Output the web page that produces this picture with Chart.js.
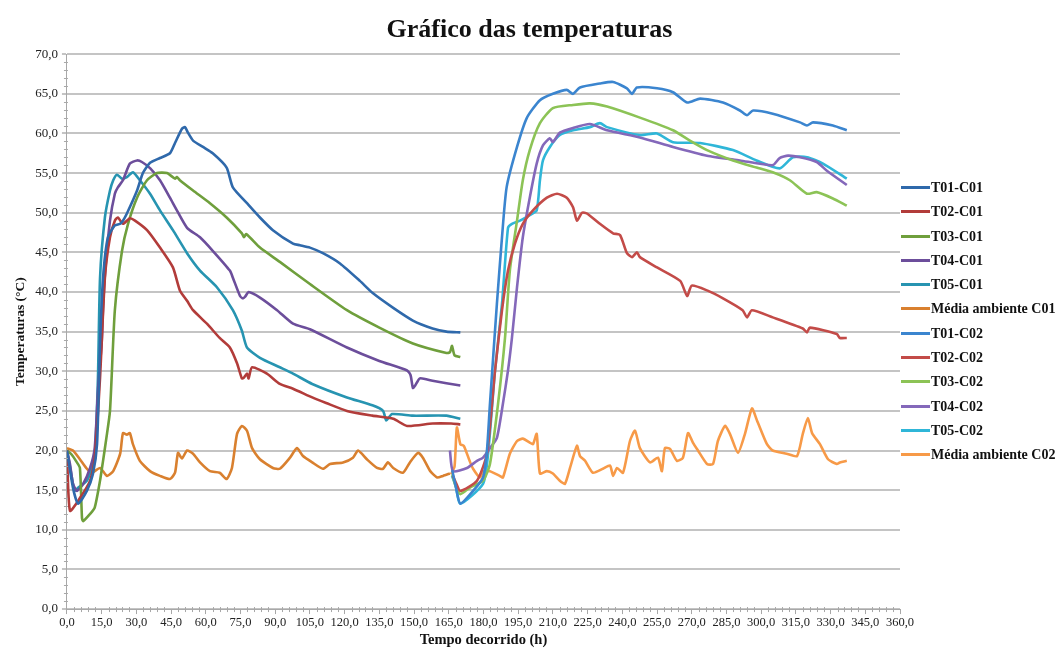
<!DOCTYPE html>
<html>
<head>
<meta charset="utf-8">
<script src="https://cdn.jsdelivr.net/npm/chart.js@4/dist/chart.umd.min.js"></script>
<style>
html,body{margin:0;padding:0;background:#fff;}
#wrap{width:1059px;height:648px;position:relative;}
</style>
</head>
<body>
<div id="wrap"><canvas id="c" width="1059" height="648"></canvas></div>
<script>
// Series values: [elapsed hours, temperature °C]
const T01_C01 = [[0,20],[2.6,15.3],[4.8,13.3],[8.6,14.9],[11.2,17.0],[13,20.8],[14.3,33.5],[15.6,41.8],[17.7,46.9],[20.7,48.4],[22.9,48.6],[24.2,49.0],[25.9,49.9],[30.3,52.8],[32.8,55.0],[35.9,56.3],[40.2,56.9],[44.5,57.5],[46.7,58.8],[49.7,60.6],[51,60.8],[52.3,60.1],[54.5,59.1],[58.8,58.3],[63,57.5],[69,55.7],[71.7,53.2],[77.8,51.2],[83.4,49.4],[89,47.8],[97.7,46.1],[100.7,45.9],[105,45.6],[110.6,44.9],[118,43.6],[126.6,41.4],[132,39.9],[141,38.0],[149.5,36.4],[158,35.4],[164,35.0],[170,34.9]];
const T02_C01 = [[0,20],[1.3,12.4],[5.6,14.0],[10,16.2],[12,19.0],[14.3,29.2],[16.4,41.8],[18.6,46.9],[20.7,49.0],[22,49.4],[24.2,48.6],[27.2,49.3],[29.4,49.0],[34.6,47.8],[40.2,45.6],[45.8,43.1],[48.8,40.2],[51.9,38.9],[54.5,37.7],[60.5,36.0],[66,34.2],[70.4,33.0],[73.5,31.0],[75.6,29.1],[76.5,29.2],[77.8,29.7],[78.5,29.1],[80,30.5],[86.4,29.7],[92,28.4],[97.7,27.8],[106,26.7],[112,26.0],[121,25.0],[132,24.4],[141,24.0],[147,23.1],[158,23.4],[166,23.4],[170,23.3]];
const T03_C01 = [[0,20],[2,19.5],[4.3,18.5],[5.6,17.8],[6.5,11.5],[7,11.1],[10,12.0],[12,12.8],[14.3,16.2],[15.6,18.7],[17,21.5],[18.6,25.0],[20.7,37.7],[23.8,45.2],[26.4,48.6],[30.3,51.9],[34.6,54.1],[38.9,55.0],[43.2,55.0],[46.7,54.3],[47.5,54.5],[48.8,54.1],[54.5,52.8],[61.8,51.2],[69,49.4],[75.6,47.4],[76.5,46.9],[77.5,47.3],[83.4,45.6],[92,43.8],[105,41.0],[121,37.7],[135,35.5],[149.5,33.5],[164,32.3],[165.5,32.4],[166.4,33.2],[167.5,32.0],[170,31.8]];
const T04_C01 = [[0,20],[1.3,18.3],[2.6,15.8],[4.3,14.9],[7,15.8],[10,17.8],[12,20.3],[13.5,28],[15,33.5],[15.6,38],[16.5,42.5],[18.6,49.0],[20.7,52.4],[22,53.2],[24.2,54.1],[27.2,56.2],[30.3,56.6],[32.4,56.4],[36,55.6],[40.2,54.1],[44.5,51.9],[47.5,50.3],[51.9,48.1],[57.5,46.9],[63,45.2],[70.4,42.7],[71.7,41.8],[74.8,39.5],[76,39.2],[77,39.4],[78.5,40.0],[83.4,39.3],[90.8,37.7],[97.7,36.0],[105,35.3],[121,33.0],[135,31.3],[147,30.1],[148.5,29.5],[149.5,27.9],[150.5,28.2],[152.5,29.1],[158,28.8],[170,28.2]];
const T05_C01 = [[0,20],[1,18.5],[2.6,15.8],[3.5,14.9],[4.8,15.3],[8.6,16.2],[10.8,17.8],[12,19.1],[13.4,29.2],[14.3,41.8],[16.4,49.4],[18.6,52.8],[20,54.1],[21.6,54.8],[23.8,54.3],[25.9,54.5],[28.5,55.1],[31.5,54.1],[35.9,52.4],[40.2,50.3],[45.8,47.8],[51.9,44.9],[57.5,42.7],[64.8,40.6],[71.7,37.7],[75.6,35.1],[77.8,33.0],[83.4,31.7],[92,30.5],[97.7,29.7],[106,28.4],[121,26.7],[132,25.7],[136.6,25.0],[138,23.8],[140.5,24.6],[149.5,24.4],[164,24.4],[170,24.0]];
const AMB_C01 = [[0,20.3],[2.6,20.0],[5.6,18.9],[8.6,17.7],[10.8,17.2],[14.3,17.8],[17.3,16.8],[20,17.4],[23,19.6],[24.2,22.2],[25.9,22.0],[27.2,22.2],[28.5,20.8],[31.5,18.7],[35.9,17.4],[40.2,16.8],[44.5,16.4],[46.7,17.2],[48,19.7],[49.7,19.0],[51.9,20.0],[54.5,19.6],[57.5,18.5],[61.8,17.4],[66,17.2],[69,16.4],[71.3,17.8],[73.5,22.1],[75.6,23.1],[77.8,22.5],[80,20.3],[83.4,18.9],[89,17.8],[92,17.7],[96.4,19.1],[99.4,20.3],[102,19.3],[106,18.5],[110.6,17.7],[113.7,18.3],[119.3,18.5],[123.6,19.1],[125.8,20.0],[129.6,18.9],[134,17.8],[136.6,17.7],[138.7,18.5],[141,17.8],[145.2,17.2],[148.2,18.5],[151.7,19.7],[153.8,19.1],[157,17.4],[160,16.6],[162.5,16.8],[165.5,17.1]];
const T01_C02 = [[166.5,17.5],[168,15.5],[170,13.3],[175.5,14.9],[179.8,16.6],[181.5,20],[182.8,25.9],[185.8,38.5],[188,46.9],[190,53.2],[194.5,58.3],[198.8,62.0],[204.4,64.2],[210,65.0],[216,65.5],[218.7,65.0],[221.7,65.8],[230.3,66.3],[236,66.5],[242,65.7],[244.2,65.0],[246.3,65.8],[255,65.7],[261.9,65.2],[268,63.9],[273.6,64.4],[283.5,63.9],[290.8,62.9],[293.9,62.3],[296.5,62.9],[305,62.5],[316.8,61.4],[319.8,61.0],[322.4,61.4],[331,61.0],[337,60.4]];
const T02_C02 = [[166.8,16.8],[168,16.0],[170,14.9],[177.2,16.2],[181.5,19.6],[185,30.1],[188,37.7],[190.6,42.7],[193.6,46.1],[197,48.6],[201.4,50.3],[207.4,51.9],[211.8,52.4],[216,51.9],[218.7,50.7],[220.4,49.0],[222.6,50.0],[224.7,49.9],[230.3,48.6],[236,47.4],[239,47.2],[242,44.9],[244.2,44.4],[246.3,45.0],[247.6,44.4],[255,43.1],[265,41.4],[268,39.5],[270,40.8],[276.6,40.2],[283.5,39.2],[292,37.7],[293.9,36.8],[296,37.7],[305,36.8],[318,35.4],[319.8,34.9],[321,35.5],[332.7,34.7],[334,34.2],[337,34.2]];
const T03_C02 = [[166.5,17],[168,15.5],[170,14.5],[174,15.3],[179.8,16.2],[182.8,18.3],[186.3,25.9],[189.3,34.2],[191.4,42.7],[194.5,49.0],[197,54.1],[200,57.9],[204.4,61.3],[210,63.2],[218.7,63.6],[226,63.8],[233.4,63.4],[247.6,62.0],[261.9,60.4],[269.2,59.1],[276.6,57.9],[287.8,56.6],[298,55.7],[305,55.1],[312.4,54.1],[319.8,52.4],[324,52.6],[331,51.8],[337,50.9]];
const T04_C02 = [[165.5,20.0],[166.8,17.4],[172.9,17.8],[177.2,18.7],[179.8,19.1],[182.8,20.3],[185.8,21.6],[188.4,25.9],[190.6,30.1],[192.3,34.2],[194.5,40.6],[197,46.9],[200,51.9],[203,56.2],[205.7,58.5],[208.7,59.4],[210,58.9],[213,60.1],[218.7,60.7],[226,61.2],[233.4,60.4],[247.6,59.5],[261.9,58.3],[276.6,57.2],[290.8,56.6],[305,56.0],[308,56.9],[311.6,57.2],[316.8,57.0],[324,56.4],[328.4,55.3],[337,53.5]];
const T05_C02 = [[166.4,16.8],[168,15.5],[170,13.3],[179.8,15.8],[182,19.6],[185,30.1],[188,38.5],[190.6,48.1],[192.3,48.6],[195.8,49.0],[200,49.7],[203,50.3],[204.4,54.1],[205.7,56.6],[208.7,58.3],[213,59.8],[218.7,60.4],[226,60.8],[230.3,61.3],[233.4,60.8],[247.6,59.8],[255,60.0],[261.9,58.9],[273.6,58.8],[287.8,57.9],[298,56.6],[308,55.6],[313.7,57.0],[319.8,57.0],[326.7,56.2],[337,54.3]];
const AMB_C02 = [[166,17.0],[167.5,18],[168.5,22.9],[170,20.8],[171.5,20.6],[174,18.7],[175.5,17.7],[178.5,16.6],[180,17.4],[182.8,17.4],[187,16.8],[188.4,16.6],[191.4,19.6],[194.5,21.2],[197,21.5],[200,21.0],[201.4,20.8],[203,22.1],[204.4,17.1],[207.4,17.4],[210,17.1],[213,16.2],[215.2,15.8],[217.4,17.8],[220.4,20.6],[221.7,19.3],[223.9,18.7],[227.3,17.2],[231.6,17.7],[234.7,18.1],[236,16.8],[237.7,17.8],[240.3,17.2],[243.3,21.2],[245.5,22.5],[247.6,20.3],[252,18.5],[255.4,19.1],[257.1,17.4],[258.4,20.3],[260.6,20.2],[263.6,18.7],[266.2,19.1],[268.4,22.2],[270.5,21.0],[272.7,20.0],[276.6,18.3],[279.2,18.3],[281.3,21.2],[284.4,23.1],[286.5,22.1],[290,19.7],[293,22.1],[296,25.3],[298.2,23.8],[302.5,20.8],[305,20.0],[311,19.6],[315.5,19.3],[318,22.1],[320.2,24.1],[322,22.2],[325.4,20.8],[328.9,18.9],[332.7,18.3],[334,18.5],[337,18.7]];

const seriesNames = ['T01-C01','T02-C01','T03-C01','T04-C01','T05-C01','Média ambiente C01','T01-C02','T02-C02','T03-C02','T04-C02','T05-C02','Média ambiente C02'];
const seriesData = [T01_C01,T02_C01,T03_C01,T04_C01,T05_C01,AMB_C01,T01_C02,T02_C02,T03_C02,T04_C02,T05_C02,AMB_C02];
const seriesColors = ['#2f69ab','#b23c3a','#6f9f3c','#6c4e9b','#2794b1','#d9802f','#3b85cf','#c34b48','#8cc356','#8468ba','#2fb6d8','#f79a48'];

const X_MIN = 0, X_MAX = 360, X_STEP = 15, X_MINOR = 3;
const Y_MIN = 0, Y_MAX = 70, Y_STEP = 5, Y_MINOR = 1;

const serif = "'Liberation Serif', 'Times New Roman', serif";
const fmt = v => Number(v).toFixed(1).replace('.', ',');

const minorTicks = {
  id: 'minorTicks',
  afterDraw(chart) {
    const {ctx, scales:{x, y}} = chart;
    ctx.save();
    ctx.strokeStyle = '#a8a8a8';
    ctx.lineWidth = 1;
    ctx.beginPath();
    for (let v = X_MIN; v <= X_MAX; v += X_MINOR) {
      if (v % X_STEP === 0) continue;
      const px = Math.round(x.getPixelForValue(v)) + 0.5;
      ctx.moveTo(px, y.bottom - 2);
      ctx.lineTo(px, y.bottom + 3);
    }
    for (let v = Y_MIN; v <= Y_MAX; v += Y_MINOR) {
      if (v % Y_STEP === 0) continue;
      const py = Math.round(y.getPixelForValue(v)) + 0.5;
      ctx.moveTo(x.left - 3, py);
      ctx.lineTo(x.left + 1, py);
    }
    ctx.stroke();
    ctx.restore();
  }
};

// Legend drawn on the canvas to the right of the plot (entries taken from the datasets)
const sideLegend = {
  id: 'sideLegend',
  afterDraw(chart) {
    const {ctx, chartArea} = chart;
    const step = 24.3;
    const n = chart.data.datasets.length;
    const mid = (chartArea.top + chartArea.bottom) / 2 - 11;
    const y0 = mid - step * (n - 1) / 2;
    const x0 = chartArea.right + 1;
    ctx.save();
    ctx.font = "bold 14px " + serif;
    ctx.textBaseline = 'middle';
    ctx.textAlign = 'left';
    chart.data.datasets.forEach((ds, i) => {
      const yy = Math.round(y0 + i * step) + 0.5;
      ctx.strokeStyle = ds.borderColor;
      ctx.lineWidth = 3;
      ctx.beginPath();
      ctx.moveTo(x0, yy);
      ctx.lineTo(x0 + 29, yy);
      ctx.stroke();
      ctx.fillStyle = '#111';
      ctx.fillText(ds.label, x0 + 30, yy + 0.5);
    });
    ctx.restore();
  }
};

new Chart(document.getElementById('c'), {
  type: 'line',
  data: {
    datasets: seriesNames.map((name, i) => ({
      label: name,
      data: seriesData[i].map(p => ({x: p[0], y: p[1]})),
      borderColor: seriesColors[i],
      backgroundColor: seriesColors[i],
      borderWidth: 2.6,
      pointRadius: 0,
      tension: 0.2,
      fill: false
    }))
  },
  options: {
    responsive: false,
    animation: false,
    layout: {padding: {left: 0, right: 0, top: 0, bottom: 0}},
    plugins: {
      title: {
        display: true,
        text: 'Gráfico das temperaturas',
        color: '#111',
        font: {family: serif, size: 26, weight: 'bold'},
        padding: {top: 15, bottom: 8}
      },
      legend: {display: false},
      tooltip: {enabled: false}
    },
    scales: {
      x: {
        type: 'linear',
        min: X_MIN, max: X_MAX,
        ticks: {stepSize: X_STEP, autoSkip: false, maxRotation: 0, color: '#222', font: {family: serif, size: 12.5}, padding: 1, callback: v => fmt(v)},
        grid: {display: true, drawOnChartArea: false, drawTicks: true, tickLength: 5, color: '#a8a8a8'},
        border: {display: true, color: '#a8a8a8', width: 1},
        title: {display: true, text: 'Tempo decorrido (h)', color: '#111', font: {family: serif, size: 14.5, weight: 'bold', lineHeight: 1.1}, padding: {top: 1, bottom: 0}}
      },
      y: {
        type: 'linear',
        min: Y_MIN, max: Y_MAX,
        ticks: {stepSize: Y_STEP, color: '#222', font: {family: serif, size: 13}, padding: 4, callback: v => fmt(v)},
        grid: {display: true, drawOnChartArea: true, drawTicks: true, tickLength: 5, color: '#c4c4c4', lineWidth: 2},
        border: {display: true, color: '#a8a8a8', width: 1},
        title: {display: true, text: 'Temperaturas (°C)', color: '#111', font: {family: serif, size: 13.5, weight: 'bold'}, padding: {top: 12, bottom: 3}}
      },
      legendSpace: {
        type: 'linear',
        position: 'right',
        display: true,
        grid: {display: false, drawTicks: false},
        border: {display: false},
        ticks: {display: false},
        afterFit(scale) { scale.width = 159; }
      }
    }
  },
  plugins: [minorTicks, sideLegend]
});
</script>
</body>
</html>
